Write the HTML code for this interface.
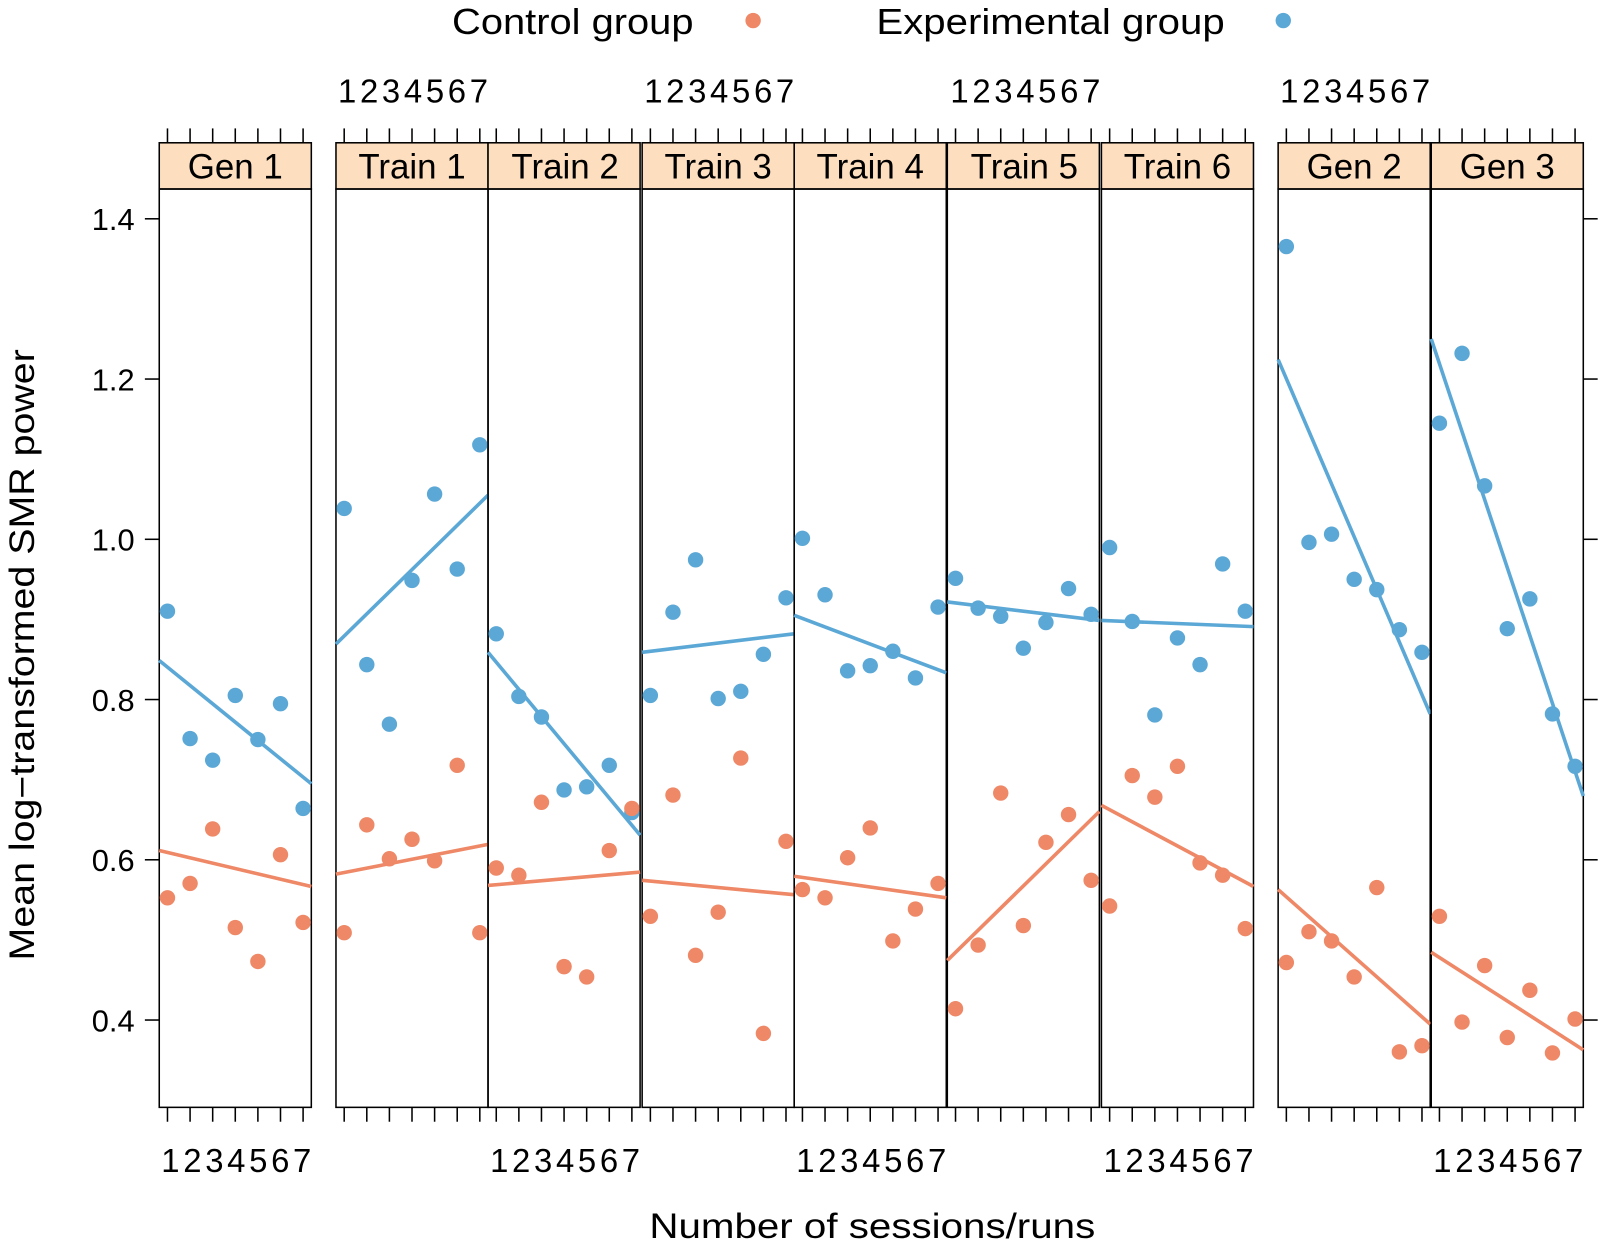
<!DOCTYPE html>
<html><head><meta charset="utf-8"><style>
html,body{margin:0;padding:0;background:#fff;}
svg{display:block;font-family:"Liberation Sans",sans-serif;}
</style></head><body>
<svg id="s" width="1610" height="1245" viewBox="0 0 1567 1212" preserveAspectRatio="none" xmlns="http://www.w3.org/2000/svg">
<rect width="1567" height="1212" fill="#fff"/>
<g id="g"></g>
<text x="440" y="33" font-size="35" textLength="235" lengthAdjust="spacingAndGlyphs">Control group</text>
<circle cx="733" cy="20" r="7.5" fill="#EE8866"/>
<text x="853" y="33" font-size="35" textLength="339" lengthAdjust="spacingAndGlyphs">Experimental group</text>
<circle cx="1249" cy="20" r="7.5" fill="#5BA8D6"/>
<g font-size="34" text-anchor="middle" fill="#000">
<text x="229" y="174">Gen 1</text>
<text x="401" y="174">Train 1</text>
<text x="550" y="174">Train 2</text>
<text x="699" y="174">Train 3</text>
<text x="847" y="174">Train 4</text>
<text x="997" y="174">Train 5</text>
<text x="1146" y="174">Train 6</text>
<text x="1318" y="174">Gen 2</text>
<text x="1467" y="174">Gen 3</text>
</g>
<g font-size="30" text-anchor="end" fill="#000">
<text x="131" y="224">1.4</text>
<text x="131" y="380">1.2</text>
<text x="131" y="536">1.0</text>
<text x="131" y="692">0.8</text>
<text x="131" y="848">0.6</text>
<text x="131" y="1004">0.4</text>
</g>
<g font-size="32" fill="#000" lengthAdjust="spacing">
<text x="329" y="100" textLength="146">1234567</text>
<text x="627" y="100" textLength="146">1234567</text>
<text x="925" y="100" textLength="146">1234567</text>
<text x="1246" y="100" textLength="146">1234567</text>
<text x="157" y="1141" textLength="146">1234567</text>
<text x="477" y="1141" textLength="146">1234567</text>
<text x="775" y="1141" textLength="146">1234567</text>
<text x="1074" y="1141" textLength="146">1234567</text>
<text x="1395" y="1141" textLength="146">1234567</text>
</g>
<text x="632" y="1205" font-size="34" textLength="434" lengthAdjust="spacingAndGlyphs">Number of sessions/runs</text>
<text transform="translate(33,935) rotate(-90)" font-size="34" textLength="595" lengthAdjust="spacingAndGlyphs">Mean log−transformed SMR power</text>
</svg>
<script>
var NS="http://www.w3.org/2000/svg",g=document.getElementById("g");
function el(t,a){var e=document.createElementNS(NS,t);for(var k in a)e.setAttribute(k,a[k]);g.appendChild(e);return e;}
var P=[
[155,[595,719,740,677,720,685,787],[874,860,807,903,936,832,898],[643,763],[828,863]],
[327,[495,647,705,565,481,554,433],[908,803,836,817,838,745,908],[627,482],[851,822]],
[475,[617,678,698,769,766,745,791],[845,852,781,941,951,828,787],[635,813],[862,849]],
[625,[677,596,545,680,673,637,582],[892,774,930,888,738,1006,819],[635,617],[857,871]],
[773,[524,579,653,648,634,660,591],[866,874,835,806,916,885,860],[599,655],[853,874]],
[922,[563,592,600,631,606,573,598],[982,920,772,901,820,793,857],[586,604],[935,790]],
[1072,[533,605,696,621,647,549,595],[882,755,776,746,840,852,904],[604,610],[784,863]],
[1244,[240,528,520,564,574,613,635],[937,907,916,951,864,1024,1018],[350,695],[866,997]],
[1393,[412,344,473,612,583,695,746],[892,995,940,1010,964,1025,992],[330,775],[927,1022]]];
var B="#5BA8D6",O="#EE8866";
P.forEach(function(p){var L=p[0],W=148;
 el("rect",{x:L,y:139,width:W,height:45,fill:"#FDDFC0",stroke:"#000","stroke-width":1.5});
 el("rect",{x:L,y:184,width:W,height:894,fill:"none",stroke:"#000","stroke-width":1.5});
 for(var i=0;i<7;i++){var x=L+8+22*i;
  el("line",{x1:x,y1:139,x2:x,y2:125,stroke:"#000","stroke-width":1.5});
  el("line",{x1:x,y1:1078,x2:x,y2:1092,stroke:"#000","stroke-width":1.5});}
 el("line",{x1:L,y1:p[3][0],x2:L+W,y2:p[3][1],stroke:B,"stroke-width":3.5});
 el("line",{x1:L,y1:p[4][0],x2:L+W,y2:p[4][1],stroke:O,"stroke-width":3.5});
 for(var i=0;i<7;i++){var x=L+8+22*i;
  el("circle",{cx:x,cy:p[1][i],r:7.5,fill:B});
  el("circle",{cx:x,cy:p[2][i],r:7.5,fill:O});}
});
[213,369,525,681,837,993].forEach(function(y){
 el("line",{x1:141,y1:y,x2:155,y2:y,stroke:"#000","stroke-width":1.5});
 el("line",{x1:1541,y1:y,x2:1555,y2:y,stroke:"#000","stroke-width":1.5});});
</script>
</body></html>
